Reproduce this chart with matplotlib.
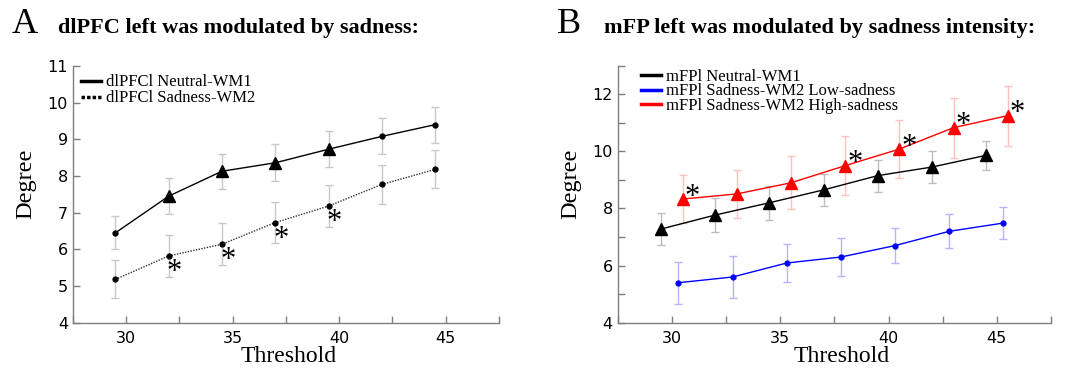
import matplotlib
matplotlib.use("Agg")
import matplotlib.pyplot as plt
from matplotlib.lines import Line2D
from matplotlib.ticker import FixedLocator

# ---------------- Data ----------------
# Panel A
a_x = [29.5, 32, 34.5, 37, 39.5, 42, 44.5]
a_neutral = [6.45, 7.45, 8.13, 8.36, 8.73, 9.08, 9.40]
a_neutral_err = [0.45, 0.49, 0.48, 0.50, 0.49, 0.49, 0.49]
a_neutral_tri = [False, True, True, True, True, False, False]
a_sad = [5.18, 5.82, 6.14, 6.73, 7.18, 7.77, 8.18]
a_sad_err = [0.52, 0.57, 0.58, 0.56, 0.57, 0.52, 0.52]
a_sig = [False, True, True, True, True, False, False]

# Panel B
b_x_neutral = [29.5, 32, 34.5, 37, 39.5, 42, 44.5]
b_neutral = [7.28, 7.77, 8.20, 8.65, 9.15, 9.45, 9.86]
b_neutral_err = [0.57, 0.60, 0.60, 0.56, 0.56, 0.56, 0.52]
b_x_low = [30.3, 32.8, 35.3, 37.8, 40.3, 42.8, 45.3]
b_low = [5.40, 5.60, 6.09, 6.30, 6.70, 7.20, 7.49]
b_low_err = [0.74, 0.75, 0.68, 0.66, 0.60, 0.60, 0.55]
b_x_high = [30.5, 33, 35.5, 38, 40.5, 43, 45.5]
b_high = [8.33, 8.51, 8.90, 9.50, 10.08, 10.83, 11.25]
b_high_err = [0.83, 0.85, 0.92, 1.03, 1.03, 1.05, 1.05]
b_sig = [True, False, False, True, True, True, True]

labels_a = ["dlPFCl Neutral-WM1", "dlPFCl Sadness-WM2"]
labels_b = ["mFPl Neutral-WM1", "mFPl Sadness-WM2 Low-sadness", "mFPl Sadness-WM2 High-sadness"]
title_a = "dlPFC left was modulated by sadness:"
title_b = "mFP left was modulated by sadness intensity:"

SERIF = ["Liberation Serif", "DejaVu Serif"]
SPINE = "#7f7f7f"

fig = plt.figure(figsize=(10.73, 3.68), dpi=100)
axA = fig.add_axes([0.0678, 0.1231, 0.3973, 0.6976])
axB = fig.add_axes([0.5757, 0.1231, 0.4038, 0.6984])


def style_axes(ax, ylim, ylabels_every, xlab_x):
    ax.set_xlim(27.5, 47.5)
    ax.set_ylim(*ylim)
    for s in ["top", "right"]:
        ax.spines[s].set_visible(False)
    for s in ["left", "bottom"]:
        ax.spines[s].set_color(SPINE)
        ax.spines[s].set_linewidth(1.0)
    ax.xaxis.set_major_locator(FixedLocator([30, 35, 40, 45]))
    ax.xaxis.set_minor_locator(FixedLocator([27.5, 32.5, 37.5, 42.5, 47.5]))
    ax.tick_params(axis="both", which="both", direction="in", color=SPINE,
                   labelsize=11.5, length=5, width=1)
    ax.tick_params(axis="x", which="major", pad=6)
    yt = list(range(int(ylim[0]), int(ylim[1]) + 1))
    ax.yaxis.set_major_locator(FixedLocator(yt))
    ax.set_yticklabels([str(v) if (v - ylim[0]) % ylabels_every == 0 else "" for v in yt])
    ax.set_xlabel("Threshold", fontsize=17, family=SERIF, labelpad=0)
    ax.set_ylabel("Degree", fontsize=17.5, family=SERIF, labelpad=8)
    ax.xaxis.label.set_x(xlab_x)
    ax.yaxis.label.set_y(0.54)


# ---------------- Panel A ----------------
style_axes(axA, (4, 11), 1, 0.507)
ecol = "#c8c8c8"
axA.errorbar(a_x, a_neutral, yerr=a_neutral_err, fmt="none", ecolor=ecol,
             elinewidth=1, capsize=3, zorder=1)
axA.errorbar(a_x, a_sad, yerr=a_sad_err, fmt="none", ecolor=ecol,
             elinewidth=1, capsize=3, zorder=1)
axA.plot(a_x, a_neutral, color="black", lw=1, zorder=2)
axA.plot(a_x, a_sad, color="#333333", lw=1, ls=(0, (1, 1)), zorder=2)
for x, y, t in zip(a_x, a_neutral, a_neutral_tri):
    if t:
        axA.plot(x, y, marker="^", color="black", ms=8, zorder=3)
    else:
        axA.plot(x, y, marker="o", color="black", ms=3.5, zorder=3)
axA.plot(a_x, a_sad, ls="none", marker="o", color="black", ms=3.5, zorder=3)
for x, y, s in zip(a_x, a_sad, a_sig):
    if s:
        axA.text(x + 0.28, y - 0.45, "*", fontsize=22, family=SERIF,
                 ha="center", va="center")
hA = [Line2D([], [], color="black", lw=2.5),
      Line2D([], [], color="black", lw=2.5, ls=(0, (1, 0.6)))]
axA.legend(hA, labels_a, loc="upper left", bbox_to_anchor=(0.012, 0.98),
           frameon=False, prop={"family": SERIF, "size": 12},
           handlelength=1.2, handletextpad=0.3, labelspacing=0.0,
           borderpad=0.2, borderaxespad=0)

# ---------------- Panel B ----------------
style_axes(axB, (4, 13), 2, 0.517)
axB.errorbar(b_x_neutral, b_neutral, yerr=b_neutral_err, fmt="none",
             ecolor="#bdbdbd", elinewidth=1, capsize=3, zorder=1)
axB.errorbar(b_x_low, b_low, yerr=b_low_err, fmt="none",
             ecolor="#b4b4ff", elinewidth=1, capsize=3, zorder=1)
axB.errorbar(b_x_high, b_high, yerr=b_high_err, fmt="none",
             ecolor="#ffc0c0", elinewidth=1, capsize=3, zorder=1)
axB.plot(b_x_neutral, b_neutral, color="black", lw=1, marker="^", ms=8, zorder=3)
axB.plot(b_x_low, b_low, color="blue", lw=1, marker="o", ms=3.5, zorder=3)
axB.plot(b_x_high, b_high, color="red", lw=1, marker="^", ms=8, zorder=3)
for x, y, s in zip(b_x_high, b_high, b_sig):
    if s:
        axB.text(x + 0.45, y + 0.06, "*", fontsize=22, family=SERIF,
                 ha="center", va="center")
hB = [Line2D([], [], color="black", lw=2.5),
      Line2D([], [], color="blue", lw=2.5),
      Line2D([], [], color="red", lw=2.5)]
axB.legend(hB, labels_b, loc="upper left", bbox_to_anchor=(0.046, 1.0),
           frameon=False, prop={"family": SERIF, "size": 12},
           handlelength=1.2, handletextpad=0.3, labelspacing=-0.1,
           borderpad=0.2, borderaxespad=0)

# ---------------- Titles ----------------
fig.text(12 / 1073, 1 - 33 / 368, "A", fontsize=26, family=SERIF, va="baseline")
fig.text(58 / 1073, 1 - 33 / 368, title_a, fontsize=16, family=SERIF,
         weight="bold", va="baseline")
fig.text(557 / 1073, 1 - 33 / 368, "B", fontsize=26, family=SERIF, va="baseline")
fig.text(604 / 1073, 1 - 33 / 368, title_b, fontsize=16, family=SERIF,
         weight="bold", va="baseline")

fig.savefig("out.png", dpi=100)
